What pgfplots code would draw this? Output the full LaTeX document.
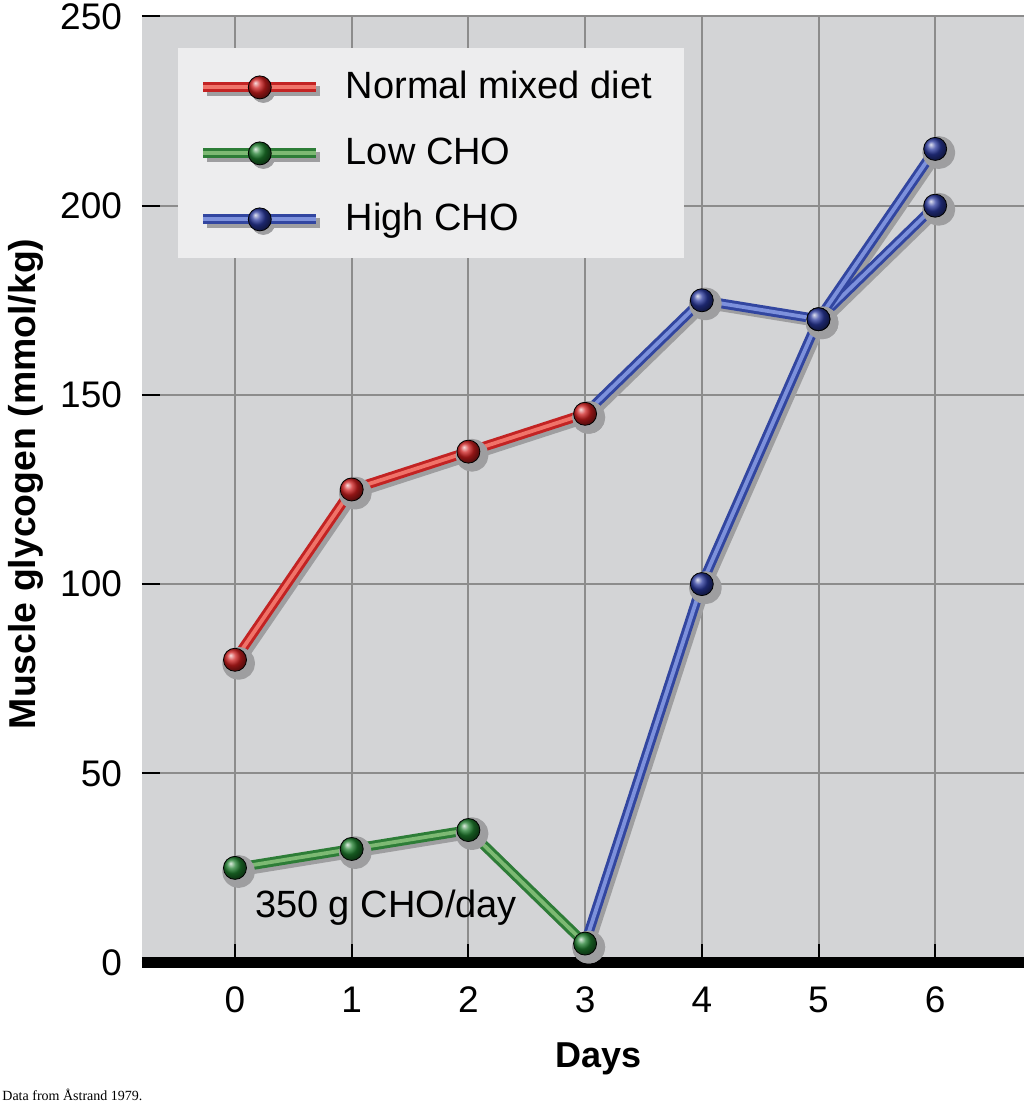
\documentclass[border=0pt]{standalone}
\usepackage{fontspec}
\setmainfont{Liberation Sans}
\newfontfamily\notefont{Liberation Serif}
\usepackage{pgfplots}
\usepackage{pgfplotstable}
\pgfplotsset{compat=1.18}

\definecolor{bggray}{RGB}{211,212,214}
\definecolor{gridgray}{RGB}{140,140,140}
\definecolor{legendbg}{RGB}{237,237,238}
\definecolor{shadowgray}{RGB}{158,158,160}
\definecolor{rdark}{RGB}{195,35,35}
\definecolor{rlight}{RGB}{240,115,105}
\definecolor{rball}{RGB}{205,30,30}
\definecolor{gdark}{RGB}{45,125,55}
\definecolor{glight}{RGB}{125,185,115}
\definecolor{gball}{RGB}{30,125,45}
\definecolor{bdark}{RGB}{50,70,160}
\definecolor{blight}{RGB}{125,145,220}
\definecolor{bball}{RGB}{40,55,155}

\pgfplotstableread{
x y
0 80
1 125
2 135
3 145
}\normaldiet
\pgfplotstableread{
x y
0 25
1 30
2 35
3 5
}\lowcho
\pgfplotstableread{
x y
3 145
4 175
5 170
6 200
}\highafternormal
\pgfplotstableread{
x y
3 5
4 100
5 170
6 215
}\highafterlow

\pgfplotsset{
  tube/.style 2 args={draw=#1, double=#2, line width=1.5pt, double distance=1.9pt,
    line join=round, line cap=round, mark=none},
  shadow/.style={draw=shadowgray, line width=4.9pt, line join=round, xshift=1.8pt, yshift=-1.8pt,
    mark=*, mark size=5.75pt, mark options={fill=shadowgray, draw=none}},
  balls/.style={only marks, mark=ball, mark size=5.75pt, mark options={ball color=#1}},
}

\newcommand\tubelegend[3]{%
  \draw[shadowgray, line width=4.9pt] (1.8pt,-1.8pt) -- (58.3pt,-1.8pt);
  \fill[shadowgray] (30.05pt,-1.8pt) circle (5.75pt);
  \draw[draw=#1, double=#2, line width=1.5pt, double distance=1.9pt] (0pt,0pt) -- (56.5pt,0pt);
  \shade[ball color=#3] (28.25pt,0pt) circle (5.75pt);
}

\begin{document}
\begin{tikzpicture}
\begin{axis}[
    scale only axis,
    width=441pt, height=473pt,
    xmin=-0.797, xmax=6.761,
    ymin=0, ymax=250,
    axis x line*=bottom, axis y line*=left,
    x axis line style={line width=5.5pt, black, -},
    y axis line style={draw=none},
    xtick={0,...,6}, ytick={0,50,...,250},
    tick align=inside, major tick length=9pt,
    tick style={black, line width=1pt},
    grid=major, grid style={gridgray, line width=1pt},
    axis background/.style={fill=bggray},
    /pgf/number format/assume math mode=true,
    ticklabel style={font=\fontsize{18.5}{22}\selectfont},
    yticklabel style={xshift=-6.5pt},
    xticklabel style={yshift=-8.5pt},
    xlabel={Days},
    ylabel={Muscle glycogen (mmol/kg)},
    xlabel style={font=\bfseries\fontsize{18}{21}\selectfont,
      at={(rel axis cs:0.518,-0.1115)}, anchor=base},
    ylabel style={font=\bfseries\fontsize{18.7}{22}\selectfont,
      at={(rel axis cs:-0.1213,0.506)}, anchor=base},
    legend cell align=left,
    legend style={at={(rel axis cs:0.0408,0.9667)}, anchor=north west,
      fill=legendbg, draw=none, font=\fontsize{19}{22}\selectfont,
      inner xsep=10pt, inner ysep=6.5pt, row sep=7pt, column sep=4.5pt,
      nodes={inner xsep=6pt, inner ysep=5pt, text height=13.5pt, text depth=2.5pt}},
    clip=false,
]
% shadows
\addplot[shadow, forget plot] table {\normaldiet};
\addplot[shadow, forget plot] table {\lowcho};
\addplot[shadow, forget plot] table {\highafternormal};
\addplot[shadow, forget plot] table {\highafterlow};
% tubes
\addplot[tube={rdark}{rlight}, forget plot] table {\normaldiet};
\addplot[tube={gdark}{glight}, forget plot] table {\lowcho};
\addplot[tube={bdark}{blight}, forget plot] table {\highafternormal};
\addplot[tube={bdark}{blight}, forget plot] table {\highafterlow};
% balls
\addplot[balls=rball, forget plot] table {\normaldiet};
\addplot[balls=gball, forget plot] table {\lowcho};
\addplot[balls=bball, forget plot, skip coords between index={0}{1}] table {\highafternormal};
\addplot[balls=bball, forget plot, skip coords between index={0}{1}] table {\highafterlow};

\addlegendimage{legend image code/.code={\tubelegend{rdark}{rlight}{rball}}}
\addlegendentry{Normal mixed diet}
\addlegendimage{legend image code/.code={\tubelegend{gdark}{glight}{gball}}}
\addlegendentry{Low CHO}
\addlegendimage{legend image code/.code={\tubelegend{bdark}{blight}{bball}}}
\addlegendentry{High CHO}

\node[anchor=base, inner sep=0pt, font=\fontsize{19}{22}\selectfont] at (axis cs:1.294,11.76) {350 g CHO/day};
\node[anchor=base west, inner sep=0pt, font=\notefont\fontsize{7}{8}\selectfont] at (rel axis cs:-0.1587,-0.1464) {Data from Åstrand 1979.};

\coordinate (bbll) at (rel axis cs:-0.161,-0.1517);
\coordinate (bbur) at (rel axis cs:1,1.01744);
\end{axis}
\pgfresetboundingbox
\path[use as bounding box] (bbll) rectangle (bbur);
\end{tikzpicture}
\end{document}
